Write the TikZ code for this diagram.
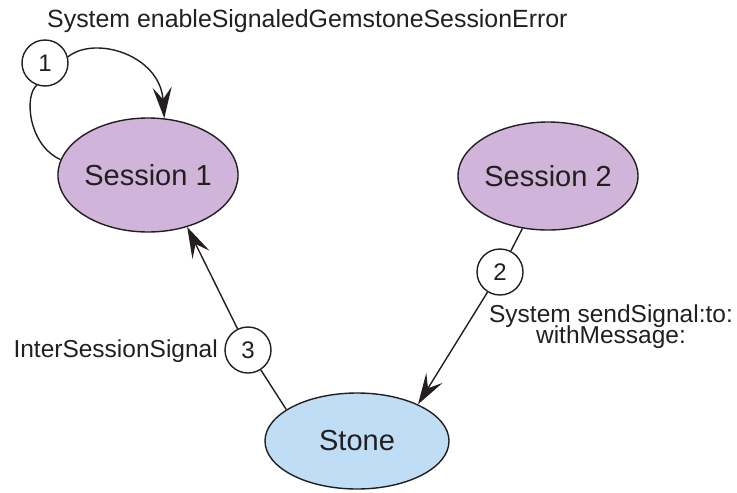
\documentclass[tikz,border=0pt]{standalone}
\usepackage{fontspec}
\setmainfont{Liberation Sans}
\usetikzlibrary{shapes.geometric,arrows.meta}
\definecolor{ink}{HTML}{231F20}
\definecolor{lilac}{HTML}{D1B4D9}
\definecolor{skyfill}{HTML}{BFDDF4}
\newcommand{\mytightlines}{\lineskiplimit=-30pt\relax}
\tikzset{
  conn/.style={draw=ink, line width=1.4pt},
  arr/.style={conn, -{Stealth[length=31pt,width=19pt,inset=12pt]}},
  oval/.style={ellipse, draw=ink, line width=1.4pt, inner sep=0pt, text=ink,
    font=\fontsize{29}{34}\selectfont},
  num/.style={circle, draw=ink, line width=1.4pt, fill=white, minimum size=46pt,
    inner sep=0pt, text=ink, font=\fontsize{24}{28}\selectfont},
  lbl/.style={inner sep=0pt, text=ink, font=\fontsize{24.5}{21}\selectfont\mytightlines}
}
\begin{document}
\begin{tikzpicture}[x=1pt,y=-1pt]
\useasboundingbox (0,0) rectangle (737,493);
\node[oval, fill=lilac, minimum width=174pt, minimum height=114pt] (s1) at (148,175) {Session 1};
\node[oval, fill=lilac, minimum width=174pt, minimum height=108pt] (s2) at (548,176) {Session 2};
\node[oval, fill=skyfill, minimum width=184pt, minimum height=96pt] (st) at (357,441) {Stone};
\node[num] (c1) at (45,63) {1};
\node[num] (c2) at (500,272) {2};
\node[num] (c3) at (248,350) {3};
\draw[arr] (c1.15) .. controls (95,35) and (160,55) .. (s1.74);
\draw[conn] (c1.250) .. controls (24,95) and (28,145) .. (s1.170);
\draw[conn] (s2.244) -- (c2);
\draw[arr] (c2) -- (st.31);
\draw[conn] (st.156) -- (c3);
\draw[arr] (c3) -- (s1.307);
\node[lbl, anchor=base west, font=\fontsize{24.9}{28}\selectfont] (t1) at (47,27) {System enableSignaledGemstoneSessionError};
\node[lbl, anchor=base east] (t3) at (218,357) {InterSessionSignal};
\node[lbl, anchor=base, align=center] (t2) at (611,343) {System sendSignal:to:\\withMessage:};
\end{tikzpicture}
\end{document}
